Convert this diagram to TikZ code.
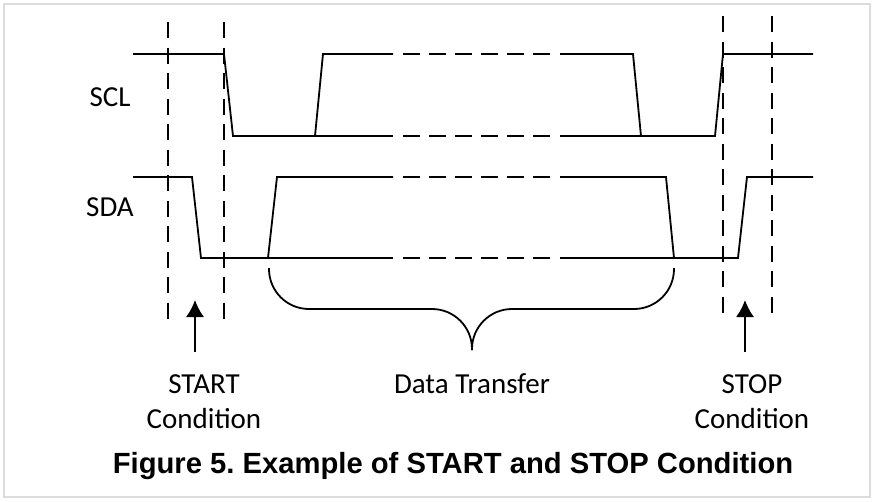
\documentclass[tikz,border=0pt]{standalone}
\usepackage{fontspec}
\setmainfont{Carlito}
\newfontfamily\captionfont{Liberation Sans}
\usepackage{tikz}
\usetikzlibrary{positioning,arrows.meta}

\begin{document}
\frenchspacing
\begin{tikzpicture}[
				x=1pt, y=-1pt,
				>={Latex[width=18pt,length=17pt]},
				line cap=butt,
				line join=miter,
				every path/.style={line width=1.8pt}
				]
				% colours
				\definecolor{frameGray}{HTML}{DCDCDC}
				
				% styles
				\tikzset{
					sig/.style={draw=black},
					gapline/.style={draw=black, dash pattern=on 17pt off 9pt},
					marker/.style={draw=black, dash pattern=on 16pt off 9.5pt},
					lbl/.style={font=\fontsize{29}{35}\selectfont, align=center, inner sep=0pt}
				}
				
				\useasboundingbox (0,0) rectangle (875,501);
				\draw[frameGray, line width=1.5pt] (4,4) rectangle (870,497);
				
				% ===== signal names =====
				\node[lbl] (scl) at (110,97) {SCL};
				\node[lbl] (sda) at (110,207) {SDA};
				
				% ===== SCL =====
				\draw[sig] (133,54) -- (224,54) -- (233,136) -- (315,136) -- (323,54) -- (393,54);
				\draw[sig] (315,136) -- (393,136);
				\draw[gapline] (403,54) -- (550,54);
				\draw[gapline] (403,136) -- (550,136);
				\draw[sig] (560,54) -- (633,54) -- (641,136) -- (715,136) -- (723,54) -- (813,54);
				\draw[sig] (560,136) -- (641,136);
				
				% ===== SDA =====
				\draw[sig] (133,177) -- (192,177) -- (201,258) -- (268,258) -- (277,177) -- (393,177);
				\draw[sig] (268,258) -- (393,258);
				\draw[gapline] (403,177) -- (550,177);
				\draw[gapline] (403,258) -- (550,258);
				\draw[sig] (560,177) -- (666,177) -- (674,258) -- (738,258) -- (747,177) -- (813,177);
				\draw[sig] (560,258) -- (674,258);
				
				% ===== START / STOP markers =====
				\draw[marker] (168,22) -- (168,320);
				\draw[marker] (224,22) -- (224,320);
				\draw[marker] (723,16) -- (723,322);
				\draw[marker] (772,16) -- (772,322);
				
				% ===== brace =====
				\draw[sig, rounded corners=40pt] (269,268) -- (269,309) -- (472,309) -- (472,350);
				\draw[sig, rounded corners=40pt] (674,268) -- (674,309) -- (472,309) -- (472,350);
				
				% ===== labels + arrows =====
				% base of a two-line node sits on its last line
				\node[lbl, anchor=base] (start) at (204,428) {START\\Condition};
				\node[lbl, anchor=base] (data) at (472,393) {Data Transfer};
				\node[lbl, anchor=base] (stop) at (752,428) {STOP\\Condition};
				
				\coordinate (startTail) at (195,352);
				\coordinate (startTip) at (195,300);
				\coordinate (stopTail) at (745,352);
				\coordinate (stopTip) at (745,300);
				\draw[->] (startTail) -- (startTip);
				\draw[->] (stopTail) -- (stopTip);
				
				% ===== caption =====
				\node[font=\captionfont\bfseries\fontsize{29.2}{32}\selectfont, anchor=base, inner sep=0pt] (title) at (453,473)
				{Figure 5. Example of START and STOP Condition};
				
			\end{tikzpicture}
\end{document}
